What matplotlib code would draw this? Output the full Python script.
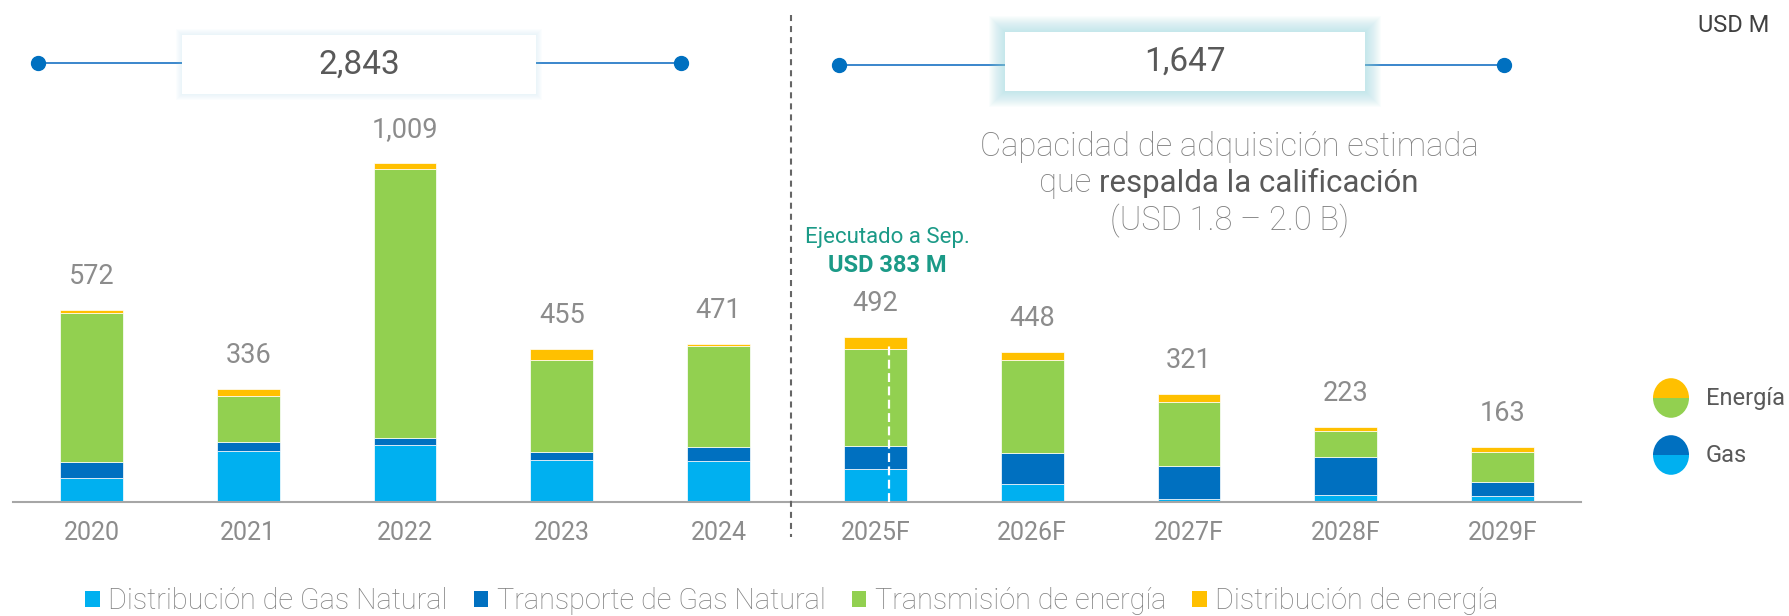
import numpy as np
import matplotlib.pyplot as plt
from matplotlib.patches import Rectangle, Wedge, Patch
from matplotlib.lines import Line2D
from matplotlib.transforms import Affine2D

plt.rcParams['font.family'] = ['Roboto', 'DejaVu Sans']

years = ["2020", "2021", "2022", "2023", "2024",
         "2025F", "2026F", "2027F", "2028F", "2029F"]
dist_gas = [72, 152, 170, 124, 122, 97, 53, 10, 22, 19]
trans_gas = [46, 27, 22, 26, 43, 71, 92, 98, 111, 41]
trans_energia = [444, 138, 799, 273, 301, 289, 277, 191, 78, 89]
dist_energia = [10, 19, 18, 32, 5, 35, 26, 22, 12, 14]
totals = [572, 336, 1009, 455, 471, 492, 448, 321, 223, 163]
series_names = ["Distribución de Gas Natural", "Transporte de Gas Natural",
                "Transmisión de energía", "Distribución de energía"]
colors = ["#00b0f0", "#0070c0", "#92d050", "#ffc000"]

total_hist = "2,843"
total_proy = "1,647"
ejecutado = 383

W, H = 1790, 616
GREY = "#8c8c8c"
DARK = "#595959"

fig = plt.figure(figsize=(W / 100, H / 100), dpi=100)
# pixel coords (origin top-left) for decorations outside the plot
pix = Affine2D().scale(1 / W, -1 / H).translate(0, 1) + fig.transFigure

ax = fig.add_axes([13 / W, 114 / H, (1581 - 13) / W, 502 / H])
x = np.arange(len(years))
bottom = np.zeros(len(years))
for vals, c in zip([dist_gas, trans_gas, trans_energia, dist_energia], colors):
    ax.bar(x, vals, 0.40, bottom=bottom, color=c, edgecolor="white",
           linewidth=0.5, zorder=2)
    bottom += np.array(vals)

for i, t in enumerate(totals):
    ax.annotate(f"{t:,}", (i, t), xytext=(0, 24), textcoords="offset points",
                ha="center", va="center", fontsize=19.5, color=GREY)

ax.set_xlim(-0.5, 9.5)
ax.set_ylim(0, 502 / 0.3357)
ax.set_xticks(x, years, fontsize=18, color=GREY)
ax.tick_params(axis="x", length=0, pad=14)
ax.set_yticks([])
for s in ["top", "right", "left"]:
    ax.spines[s].set_visible(False)
ax.spines["bottom"].set_color("#a6a6a6")
ax.spines["bottom"].set_linewidth(1.5)

# executed-to-September marker inside 2025F bar
ax.plot([5.084, 5.084], [0, totals[5] - 14], color="white", lw=1.6,
        ls=(0, (4, 2)), zorder=3)

# divider between actual and forecast
fig.add_artist(Line2D([791, 791], [15, 537], transform=pix, color="#666666",
                      lw=1.5, ls=(0, (2.9, 2.4))))


def total_box(x0, x1, y0, y1, xl, xr, yl, text, glow, alpha):
    fig.add_artist(Line2D([xl, xr], [yl, yl], transform=pix, color="#3a86cc",
                          lw=1.4, zorder=1))
    for xd in (xl, xr):
        fig.add_artist(Line2D([xd], [yl], transform=pix, marker="o", ms=10,
                              color="#0070c0", zorder=2))
    for k in range(glow, 0, -1):
        fig.add_artist(Rectangle((x0 - k, y0 - k), x1 - x0 + 2 * k,
                                 y1 - y0 + 2 * k, transform=pix,
                                 facecolor="#9ad8e0", alpha=alpha,
                                 edgecolor="none", zorder=3))
    fig.add_artist(Rectangle((x0, y0), x1 - x0, y1 - y0, transform=pix,
                             facecolor="white", edgecolor="none", zorder=4))
    fig.text((x0 + x1) / 2 / W, 1 - (y0 + y1) / 2 / H, text, ha="center",
             va="center", fontsize=24, color=DARK, zorder=5)


total_box(182, 536, 35, 94, 38, 681, 63, total_hist, 6, 0.03)
total_box(1005, 1365, 32, 91, 839, 1504, 65, total_proy, 16, 0.045)

fig.text(1769 / W, 1 - 25 / H, "USD M", ha="right", va="center",
         fontsize=17, color="#404040")

CAP = 23.5
fig.text(1229 / W, 1 - 147 / H, "Capacidad de adquisición estimada",
         ha="center", va="center", fontsize=CAP, color="#808080",
         fontweight="light")
t_que = fig.text(0, 1 - 183 / H, "que ", ha="left", va="center",
                 fontsize=CAP, color="#808080", fontweight="light")
t_bold = fig.text(0, 1 - 183 / H, "respalda la calificación", ha="left",
                  va="center", fontsize=22.5, color=DARK)
r = fig.canvas.get_renderer()
w1 = t_que.get_window_extent(r).width
w2 = t_bold.get_window_extent(r).width
x_start = 1229 - (w1 + w2) / 2
t_que.set_x(x_start / W)
t_bold.set_x((x_start + w1) / W)
fig.text(1230 / W, 1 - 221 / H, "(USD 1.8 – 2.0 B)", ha="center",
         va="center", fontsize=CAP, color="#808080", fontweight="light")

fig.text(887 / W, 1 - 238 / H, "Ejecutado a Sep.", ha="center", va="center",
         fontsize=16, color="#1b9a87")
fig.text(887 / W, 1 - 265 / H, f"USD {ejecutado} M", ha="center",
         va="center", fontsize=17, color="#1b9a87", fontweight="bold")

# grouped legend on the right
for cy, top_c, bot_c, lab in [(398, colors[3], colors[2], "Energía"),
                              (455, colors[1], colors[0], "Gas")]:
    tr = Affine2D().scale(1, 1.1).translate(1671, cy) + pix
    fig.add_artist(Wedge((0, 0), 18, 180, 360, transform=tr,
                         facecolor=top_c, edgecolor="none"))
    fig.add_artist(Wedge((0, 0), 18, 0, 180, transform=tr,
                         facecolor=bot_c, edgecolor="none"))
    fig.text(1706 / W, 1 - cy / H, lab, ha="left", va="center",
             fontsize=17, color=DARK)

handles = [Patch(facecolor=c, edgecolor="none") for c in colors]
fig.legend(handles, series_names, ncol=4, loc="center",
           bbox_to_anchor=(792 / W, 1 - 601 / H), frameon=False,
           handlelength=0.5, handleheight=0.5, handletextpad=0.3,
           columnspacing=0.9, labelcolor="#808080",
           prop={"weight": "light", "size": 20.8})

fig.savefig("out.png", dpi=100)
